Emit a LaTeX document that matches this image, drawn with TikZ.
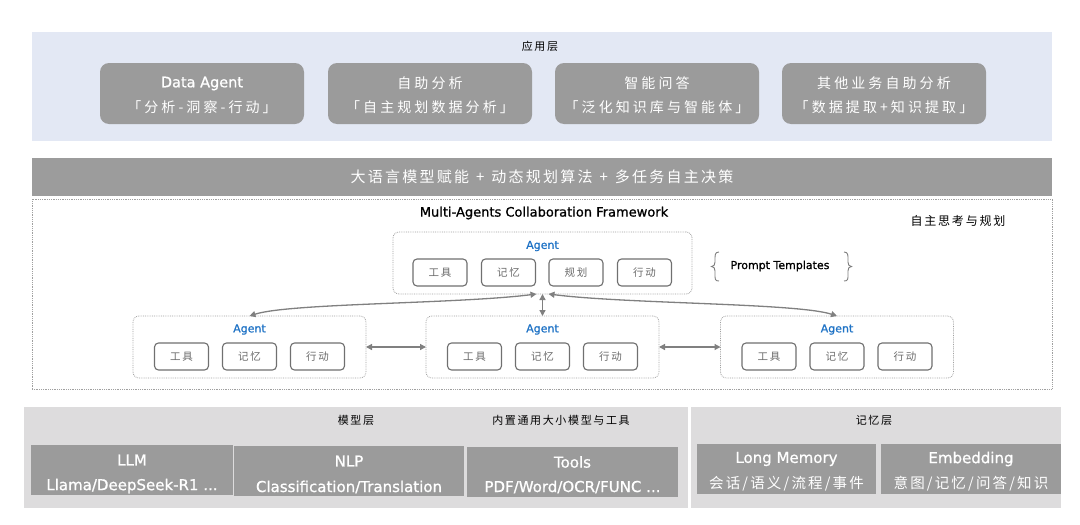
\documentclass[tikz,border=0pt]{standalone}
\usepackage{fontspec}
\setmainfont{DejaVu Sans}
\newfontfamily\latmed[FakeBold=0.9]{DejaVu Sans}
\newfontfamily\cjk{Noto Sans CJK SC}
\newfontfamily\cjkA[LetterSpace=15]{Noto Sans CJK SC}
\newfontfamily\cjkB[LetterSpace=22]{Noto Sans CJK SC}
\usetikzlibrary{arrows.meta,calc}
\definecolor{appbg}{HTML}{E3E8F4}
\definecolor{boxgray}{HTML}{9B9B9B}
\definecolor{bandgray}{HTML}{9C9C9C}
\definecolor{lowbg}{HTML}{DDDCDD}
\definecolor{agentblue}{HTML}{1F73C6}
\definecolor{linegray}{HTML}{808080}
\definecolor{toolline}{HTML}{707070}
\definecolor{tooltext}{HTML}{6A6A6A}
\definecolor{framegray}{HTML}{A0A0A0}
\begin{document}
\begin{tikzpicture}[x=1pt,y=-1pt,
  panel/.style={inner sep=0pt, outer sep=0pt, draw=none},
  appbox/.style={panel, fill=boxgray, rounded corners=9pt, minimum width=204pt, minimum height=61pt},
  apptxt/.style={text=white, inner sep=0pt},
  agentframe/.style={panel, draw=framegray, densely dotted, line width=0.8pt, rounded corners=6pt},
  toolbox/.style={draw=toolline, line width=1.1pt, rounded corners=4pt, minimum width=54pt, minimum height=27pt, inner sep=0pt, text=tooltext, font=\cjkA\fontsize{10.5}{12}\selectfont},
  agenttxt/.style={text=agentblue, inner sep=0pt, font=\latmed\fontsize{11}{13}\selectfont},
  modelbox/.style={panel, fill=boxgray},
  modeltxt/.style={text=white, inner sep=0pt},
  conn/.style={draw=linegray, line width=1.3pt, {Triangle[length=6pt,width=6pt]}-{Triangle[length=6pt,width=6pt]}},
  title/.style={inner sep=0pt, text=black}
]
\useasboundingbox (0,0) rectangle (1080,525);
\fill[white] (0,0) rectangle (1080,525);

% ---------- application layer ----------
\node[panel, fill=appbg, minimum width=1020pt, minimum height=109pt] (applayer) at (542,86.5) {};
\node[title, font=\cjkA\fontsize{11}{13}\selectfont] (apptitle) at (540,46) {应用层};

\node[appbox] (a1) at (202,93.5) {};
\node[appbox] (a2) at (430,93.5) {};
\node[appbox] (a3) at (657,93.5) {};
\node[appbox] (a4) at (884,93.5) {};
\node[apptxt, font=\latmed\fontsize{14.5}{16}\selectfont] (a1t) at ($(a1.center)+(0,-10)$) {Data Agent};
\node[apptxt, font=\cjkB\fontsize{14}{16}\selectfont] (a1s) at ($(a1.center)+(0,14)$) {「分析-洞察-行动」};
\node[apptxt, font=\cjkB\fontsize{14}{16}\selectfont] (a2t) at ($(a2.center)+(0,-10)$) {自助分析};
\node[apptxt, font=\cjkB\fontsize{14}{16}\selectfont] (a2s) at ($(a2.center)+(0,14)$) {「自主规划数据分析」};
\node[apptxt, font=\cjkB\fontsize{14}{16}\selectfont] (a3t) at ($(a3.center)+(0,-10)$) {智能问答};
\node[apptxt, font=\cjkB\fontsize{14}{16}\selectfont] (a3s) at ($(a3.center)+(0,14)$) {「泛化知识库与智能体」};
\node[apptxt, font=\cjkB\fontsize{14}{16}\selectfont] (a4t) at ($(a4.center)+(0,-10)$) {其他业务自助分析};
\node[apptxt, font=\cjkB\fontsize{14}{16}\selectfont] (a4s) at ($(a4.center)+(0,14)$) {「数据提取+知识提取」};

% ---------- band ----------
\node[panel, fill=bandgray, minimum width=1020pt, minimum height=38pt] (band) at (542,177) {};
\node[apptxt, font=\cjkA\fontsize{15}{18}\selectfont] (bandt) at (band.center) {大语言模型赋能\hspace{7pt}+\hspace{7pt}动态规划算法\hspace{7pt}+\hspace{7pt}多任务自主决策};

% ---------- framework ----------
\node[panel, draw=framegray, densely dotted, line width=0.8pt, minimum width=1020pt, minimum height=190pt] (frame) at (542,294) {};
\node[title, font=\latmed\fontsize{13}{15}\selectfont] (ftitle) at (544,213) {Multi-Agents Collaboration Framework};
\node[title, font=\cjkA\fontsize{12}{14}\selectfont] (think) at (958,221) {自主思考与规划};

% top agent
\node[agentframe, minimum width=299pt, minimum height=62pt] (ta) at (542.5,263) {};
\node[agenttxt] (tal) at (542.5,246) {Agent};
\node[toolbox] (t1) at (440,272.5) {工具};
\node[toolbox] (t2) at (508.5,272.5) {记忆};
\node[toolbox] (t3) at (576,272.5) {规划};
\node[toolbox] (t4) at (644.5,272.5) {行动};

% prompt templates
\node[title, font=\latmed\fontsize{11}{13}\selectfont] (pt) at (780,266) {Prompt Templates};
\draw[linegray, line width=0.9pt] (719,252) .. controls (715,252) and (715,255) .. (715,259) -- (715,262)
  .. controls (715,265) and (714,266) .. (711.5,266.5) .. controls (714,267) and (715,268) .. (715,271) -- (715,275)
  .. controls (715,279) and (715,281) .. (719,281);
\draw[linegray, line width=0.9pt] (844,252) .. controls (848,252) and (848,255) .. (848,259) -- (848,262)
  .. controls (848,265) and (849,266) .. (851.5,266.5) .. controls (849,267) and (848,268) .. (848,271) -- (848,275)
  .. controls (848,279) and (848,281) .. (844,281);

% bottom agents
\foreach \n/\cx in {la/249.5, ma/542.5, rb/837}{
  \node[agentframe, minimum width=233pt, minimum height=62pt] (\n) at (\cx,347) {};
  \node[agenttxt] (\n l) at (\cx,329.5) {Agent};
  \node[toolbox] (\n1) at (\cx-68,356.5) {工具};
  \node[toolbox] (\n2) at (\cx,356.5) {记忆};
  \node[toolbox] (\n3) at (\cx+68,356.5) {行动};
}

% connectors
\draw[conn] (ta.south) -- (ma.north);
\draw[conn] ($(ta.south)+(-6,0)$) .. controls +(-80,10) and +(40,-13) .. (la.north);
\draw[conn] ($(ta.south)+(6,0)$) .. controls +(80,10) and +(-40,-13) .. (rb.north);
\draw[conn] (la.east) -- (ma.west);
\draw[conn] (ma.east) -- (rb.west);

% ---------- bottom layers ----------
\node[panel, fill=lowbg, minimum width=664pt, minimum height=101pt] (modelL) at (356,457.5) {};
\node[panel, fill=lowbg, minimum width=370pt, minimum height=101pt] (memL) at (876,457.5) {};
\node[title, font=\cjkA\fontsize{11}{13}\selectfont] (mt) at (356,420) {模型层};
\node[title, font=\cjkA\fontsize{11}{13}\selectfont] (mt2) at (561,420) {内置通用大小模型与工具};
\node[title, font=\cjkA\fontsize{11}{13}\selectfont] (memt) at (874,420) {记忆层};

\node[modelbox, minimum width=202pt, minimum height=50pt] (llm) at (132,470) {};
\node[modelbox, minimum width=230pt, minimum height=50pt] (nlp) at (349,471) {};
\node[modelbox, minimum width=211pt, minimum height=50pt] (tools) at (572.5,472) {};
\node[modelbox, minimum width=179pt, minimum height=50pt] (lm) at (786.5,469) {};
\node[modelbox, minimum width=180pt, minimum height=50pt] (emb) at (971,469) {};

\node[modeltxt, font=\latmed\fontsize{15}{17}\selectfont] (llmt) at ($(llm.center)+(0,-10)$) {LLM};
\node[modeltxt, font=\latmed\fontsize{15}{17}\selectfont] (llms) at ($(llm.center)+(0,16)$) {Llama/DeepSeek-R1 ...};
\node[modeltxt, font=\latmed\fontsize{15}{17}\selectfont] (nlpt) at ($(nlp.center)+(0,-10)$) {NLP};
\node[modeltxt, font=\latmed\fontsize{15}{17}\selectfont] (nlps) at ($(nlp.center)+(0,16)$) {Classification/Translation};
\node[modeltxt, font=\latmed\fontsize{15}{17}\selectfont] (toolst) at ($(tools.center)+(0,-10)$) {Tools};
\node[modeltxt, font=\latmed\fontsize{15}{17}\selectfont] (toolss) at ($(tools.center)+(0,15)$) {PDF/Word/OCR/FUNC ...};
\node[modeltxt, font=\latmed\fontsize{15}{17}\selectfont] (lmt) at ($(lm.center)+(0,-10)$) {Long Memory};
\node[modeltxt, font=\cjkA\fontsize{14.5}{16}\selectfont] (lms) at ($(lm.center)+(0,15)$) {会话/语义/流程/事件};
\node[modeltxt, font=\latmed\fontsize{15}{17}\selectfont] (embt) at ($(emb.center)+(0,-10)$) {Embedding};
\node[modeltxt, font=\cjkA\fontsize{14.5}{16}\selectfont] (embs) at ($(emb.center)+(0,15)$) {意图/记忆/问答/知识};
\end{tikzpicture}
\end{document}
